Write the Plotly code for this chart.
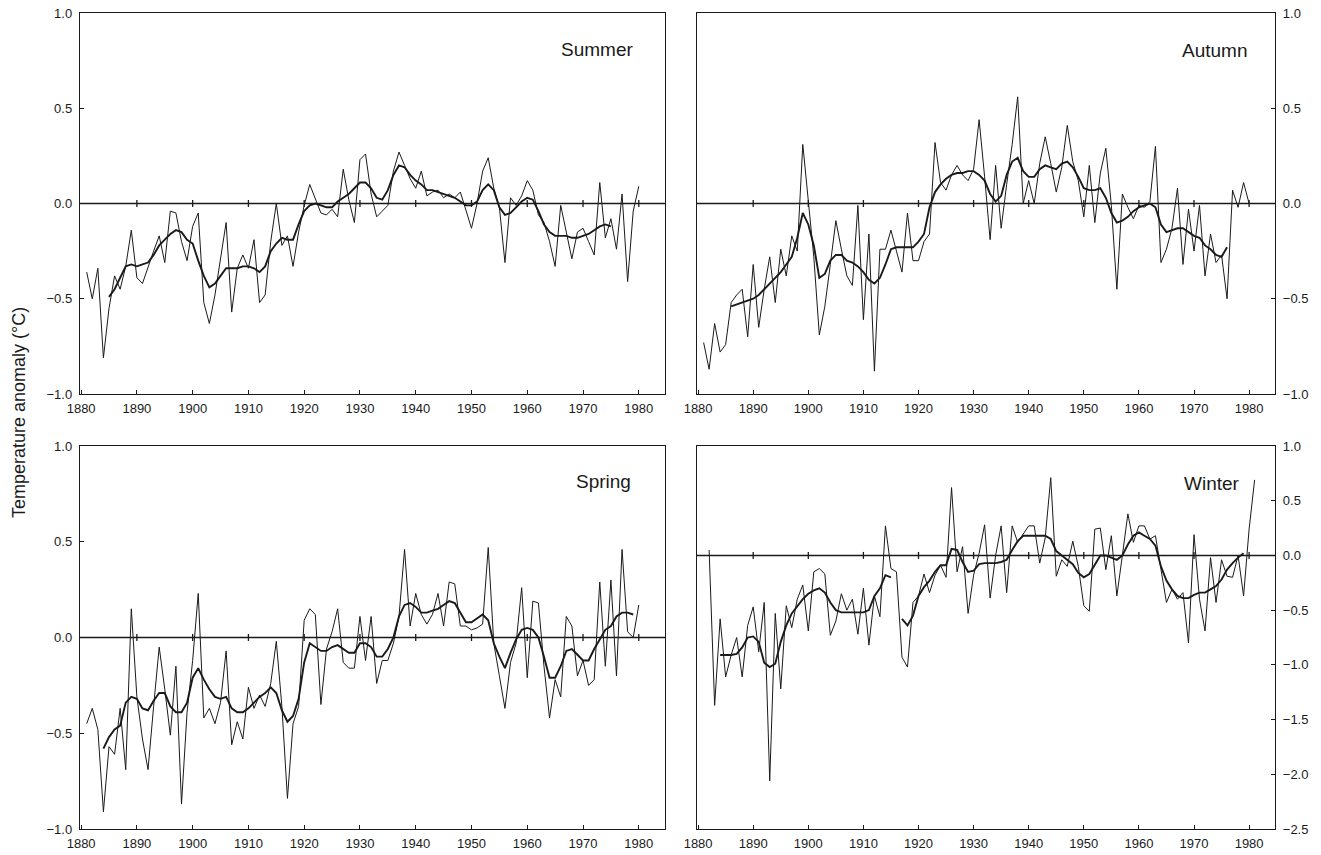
import plotly.graph_objects as go

# ---------------- data ----------------
summer_years = list(range(1881, 1981))
summer_annual = [-0.36, -0.50, -0.34, -0.81, -0.55, -0.38, -0.45, -0.33, -0.14, -0.39,
                 -0.42, -0.33, -0.25, -0.17, -0.31, -0.04, -0.05, -0.20, -0.30, -0.12,
                 -0.05, -0.52, -0.63, -0.48, -0.30, -0.10, -0.57, -0.34, -0.27, -0.34,
                 -0.19, -0.52, -0.48, -0.20, 0.00, -0.22, -0.17, -0.33, -0.15, -0.01,
                 0.10, 0.03, -0.05, -0.06, -0.03, -0.07, 0.18, 0.02, -0.10, 0.23,
                 0.26, 0.05, -0.07, -0.04, -0.01, 0.17, 0.27, 0.20, 0.13, 0.08,
                 0.17, 0.04, 0.06, 0.07, 0.03, 0.05, 0.03, 0.06, -0.03, -0.13,
                 0.00, 0.17, 0.24, 0.08, -0.02, -0.31, 0.03, -0.01, 0.04, 0.12,
                 0.07, -0.06, -0.10, -0.20, -0.33, -0.01, -0.15, -0.29, -0.15, -0.13,
                 -0.20, -0.27, 0.11, -0.18, -0.08, -0.24, 0.05, -0.41, -0.04, 0.09]
summer_smooth_years = list(range(1885, 1976))
summer_smooth = [-0.49, -0.45, -0.39, -0.33, -0.32, -0.33, -0.32, -0.31, -0.27, -0.22,
                 -0.19, -0.16, -0.14, -0.15, -0.19, -0.21, -0.30, -0.38, -0.44, -0.42,
                 -0.38, -0.34, -0.34, -0.34, -0.33, -0.33, -0.34, -0.36, -0.33, -0.25,
                 -0.21, -0.18, -0.19, -0.19, -0.11, -0.04, -0.01, 0.00, -0.01, -0.02,
                 -0.02, 0.01, 0.03, 0.05, 0.08, 0.11, 0.11, 0.08, 0.03, 0.02,
                 0.07, 0.15, 0.20, 0.19, 0.15, 0.12, 0.10, 0.07, 0.07, 0.06,
                 0.05, 0.04, 0.03, 0.01, -0.01, -0.01, 0.01, 0.07, 0.10, 0.07,
                 -0.02, -0.06, -0.05, -0.02, 0.01, 0.03, 0.02, -0.04, -0.11, -0.15,
                 -0.17, -0.17, -0.17, -0.18, -0.18, -0.17, -0.16, -0.14, -0.12, -0.11,
                 -0.12]

autumn_years = list(range(1881, 1981))
autumn_annual = [-0.73, -0.87, -0.63, -0.78, -0.74, -0.52, -0.48, -0.45, -0.70, -0.32,
                 -0.65, -0.45, -0.28, -0.52, -0.24, -0.38, -0.17, -0.25, 0.31, 0.00,
                 -0.28, -0.69, -0.54, -0.32, -0.09, -0.24, -0.38, -0.43, -0.01, -0.61,
                 -0.16, -0.88, -0.24, -0.24, -0.14, -0.25, -0.36, -0.05, -0.30, -0.30,
                 -0.20, -0.16, 0.32, 0.11, 0.07, 0.15, 0.20, 0.15, 0.12, 0.18,
                 0.44, 0.14, -0.19, 0.20, -0.13, 0.10, 0.31, 0.56, 0.00, 0.12,
                 0.00, 0.21, 0.35, 0.21, 0.06, 0.19, 0.41, 0.22, 0.12, -0.07,
                 0.20, -0.10, 0.16, 0.29, -0.01, -0.45, 0.05, -0.02, -0.08, -0.01,
                 -0.02, 0.01, 0.30, -0.31, -0.24, -0.13, 0.08, -0.32, -0.03, -0.25,
                 -0.01, -0.38, -0.16, -0.31, -0.27, -0.50, 0.07, -0.02, 0.11, 0.00]
autumn_smooth_years = list(range(1886, 1977))
autumn_smooth = [-0.54, -0.53, -0.52, -0.51, -0.50, -0.48, -0.45, -0.42, -0.39, -0.36,
                 -0.32, -0.28, -0.18, -0.05, -0.11, -0.22, -0.39, -0.37, -0.30, -0.27,
                 -0.27, -0.30, -0.31, -0.33, -0.36, -0.40, -0.42, -0.39, -0.32, -0.24,
                 -0.23, -0.23, -0.23, -0.23, -0.20, -0.16, -0.02, 0.06, 0.10, 0.13,
                 0.15, 0.16, 0.16, 0.17, 0.17, 0.15, 0.12, 0.05, 0.01, 0.04,
                 0.15, 0.22, 0.24, 0.17, 0.14, 0.14, 0.18, 0.20, 0.19, 0.18,
                 0.21, 0.22, 0.19, 0.14, 0.08, 0.07, 0.07, 0.08, 0.03, -0.05,
                 -0.10, -0.09, -0.07, -0.04, -0.02, -0.01, 0.00, -0.02, -0.11, -0.15,
                 -0.14, -0.13, -0.13, -0.15, -0.17, -0.18, -0.22, -0.24, -0.27, -0.28,
                 -0.23]

spring_years = list(range(1881, 1981))
spring_annual = [-0.45, -0.37, -0.48, -0.91, -0.57, -0.61, -0.37, -0.69, 0.15, -0.31,
                 -0.53, -0.69, -0.36, -0.05, -0.27, -0.51, -0.15, -0.87, -0.39, -0.12,
                 0.23, -0.42, -0.37, -0.45, -0.34, -0.07, -0.56, -0.44, -0.53, -0.26,
                 -0.37, -0.30, -0.36, -0.24, -0.02, -0.36, -0.84, -0.45, -0.36, 0.09,
                 0.15, 0.12, -0.35, -0.06, 0.03, 0.15, -0.13, -0.16, -0.16, 0.11,
                 -0.12, 0.11, -0.24, -0.12, -0.12, -0.03, 0.11, 0.46, 0.06, 0.23,
                 0.12, 0.07, 0.12, 0.23, 0.06, 0.29, 0.28, 0.06, 0.06, 0.04,
                 0.05, 0.07, 0.47, -0.03, -0.20, -0.37, -0.13, -0.03, 0.26, -0.21,
                 0.19, 0.18, -0.15, -0.42, -0.22, -0.31, 0.11, 0.06, -0.20, -0.12,
                 -0.25, -0.22, 0.29, -0.15, 0.30, -0.20, 0.46, 0.03, 0.00, 0.17]
spring_smooth_years = list(range(1884, 1980))
spring_smooth = [-0.58, -0.52, -0.48, -0.46, -0.34, -0.31, -0.32, -0.37, -0.38, -0.33,
                 -0.29, -0.29, -0.36, -0.39, -0.39, -0.34, -0.21, -0.16, -0.22, -0.27,
                 -0.31, -0.32, -0.31, -0.37, -0.39, -0.39, -0.37, -0.34, -0.31, -0.29,
                 -0.26, -0.29, -0.38, -0.44, -0.41, -0.32, -0.13, -0.03, -0.05, -0.07,
                 -0.07, -0.05, -0.04, -0.06, -0.08, -0.08, -0.03, -0.03, -0.05, -0.10,
                 -0.10, -0.06, 0.00, 0.11, 0.17, 0.18, 0.16, 0.13, 0.13, 0.14,
                 0.15, 0.17, 0.19, 0.18, 0.13, 0.08, 0.08, 0.10, 0.12, 0.09,
                 -0.03, -0.10, -0.16, -0.08, -0.01, 0.04, 0.05, 0.04, 0.00, -0.10,
                 -0.21, -0.21, -0.15, -0.07, -0.06, -0.09, -0.12, -0.12, -0.06, -0.01,
                 0.04, 0.06, 0.11, 0.13, 0.13, 0.12]

winter_years = list(range(1882, 1982))
winter_annual = [0.05, -1.37, -0.58, -1.11, -0.91, -0.75, -1.11, -0.64, -0.47, -0.88,
                 -0.43, -2.06, -0.53, -1.22, -0.46, -0.66, -0.40, -0.27, -0.69, -0.15,
                 -0.12, -0.17, -0.73, -0.60, -0.35, -0.50, -0.40, -0.72, -0.30, -0.82,
                 -0.37, -0.56, 0.27, -0.12, -0.15, -0.93, -1.02, -0.43, -0.37, -0.17,
                 -0.34, -0.18, -0.09, -0.20, 0.62, -0.15, 0.08, -0.53, -0.18, 0.02,
                 0.28, -0.39, 0.00, 0.27, -0.34, 0.27, 0.12, 0.19, 0.27, 0.27,
                 -0.07, 0.16, 0.71, -0.19, -0.04, -0.10, 0.13, -0.10, -0.46, -0.51,
                 0.24, 0.25, -0.13, 0.18, -0.37, 0.00, 0.38, 0.12, 0.27, 0.27,
                 0.15, 0.18, -0.13, -0.43, -0.31, -0.40, -0.34, -0.80, 0.19, -0.40,
                 -0.69, -0.02, -0.43, -0.04, -0.19, -0.20, 0.00, -0.37, 0.24, 0.69]
winter_smooth_years = list(range(1884, 1980))
winter_smooth = [-0.91, -0.91, -0.91, -0.90, -0.84, -0.75, -0.74, -0.79, -0.98, -1.02,
                 -0.99, -0.79, -0.64, -0.53, -0.46, -0.40, -0.35, -0.32, -0.30, -0.34,
                 -0.43, -0.50, -0.52, -0.52, -0.52, -0.52, -0.52, -0.50, -0.37, -0.30,
                 -0.18, -0.20, None, -0.58, -0.64, -0.55, -0.37, -0.29, -0.23, -0.15,
                 -0.09, -0.09, 0.06, 0.05, -0.06, -0.15, -0.14, -0.08, -0.07, -0.07,
                 -0.07, -0.06, -0.04, 0.05, 0.13, 0.18, 0.18, 0.18, 0.18, 0.18,
                 0.15, 0.04, 0.00, -0.04, -0.08, -0.16, -0.20, -0.17, -0.08, 0.00,
                 0.00, -0.02, -0.04, 0.00, 0.10, 0.18, 0.21, 0.18, 0.15, 0.09,
                 -0.10, -0.23, -0.31, -0.37, -0.39, -0.39, -0.36, -0.34, -0.34, -0.31,
                 -0.28, -0.22, -0.13, -0.07, -0.02, 0.02]

decade_ticks = [1880, 1890, 1900, 1910, 1920, 1930, 1940, 1950, 1960, 1970, 1980]
season_names = ["Summer", "Autumn", "Spring", "Winter"]

# ---------------- figure ----------------
W, H = 1321, 855
INK = "#1a1a1a"
FONT = "Liberation Sans, Arial, sans-serif"
XRANGE = [1879.8, 1984.7]

def px_x(a, b):
    return [a / W, b / W]

def px_y(top, bottom):
    return [1 - bottom / H, 1 - top / H]

def pos(sx, sy):
    return sx / W, 1 - sy / H

panels = [
    (summer_years, summer_annual, summer_smooth_years, summer_smooth,
     px_x(80, 665), px_y(13, 394), [-1, 1], [-1, -0.5, 0, 0.5, 1], "left"),
    (autumn_years, autumn_annual, autumn_smooth_years, autumn_smooth,
     px_x(697, 1275), px_y(13, 394), [-1, 1], [-1, -0.5, 0, 0.5, 1], "right"),
    (spring_years, spring_annual, spring_smooth_years, spring_smooth,
     px_x(80, 665), px_y(446, 829), [-1, 1], [-1, -0.5, 0, 0.5, 1], "left"),
    (winter_years, winter_annual, winter_smooth_years, winter_smooth,
     px_x(697, 1275), px_y(446, 829), [-2.5, 1], [-2.5, -2, -1.5, -1, -0.5, 0, 0.5, 1], "right"),
]

fig = go.Figure()
layout = dict(
    width=W, height=H,
    margin=dict(l=0, r=0, t=0, b=0, autoexpand=False),
    paper_bgcolor="white", plot_bgcolor="white",
    showlegend=False,
    font=dict(family=FONT, color=INK, size=13),
)

label_pos = [(635, 49), (1249, 50), (633, 481), (1242, 483)]

for i, (yrs, ann, syrs, sm, xd, yd, yr, ytv, side) in enumerate(panels):
    n = "" if i == 0 else str(i + 1)
    xa, ya = "x" + n, "y" + n
    # zero line with decade ticks
    fig.add_trace(go.Scatter(x=XRANGE, y=[0, 0], mode="lines",
                             line=dict(color=INK, width=1.6), xaxis=xa, yaxis=ya,
                             hoverinfo="skip"))
    fig.add_trace(go.Scatter(x=decade_ticks[1:], y=[0] * 10, mode="markers",
                             marker=dict(symbol="line-ns", size=5,
                                         line=dict(color=INK, width=1.3)),
                             xaxis=xa, yaxis=ya, hoverinfo="skip"))
    # annual values (thin)
    fig.add_trace(go.Scatter(x=yrs, y=ann, mode="lines",
                             line=dict(color=INK, width=1.0),
                             xaxis=xa, yaxis=ya, name=season_names[i] + " annual"))
    # smoothed (thick)
    fig.add_trace(go.Scatter(x=syrs, y=sm, mode="lines",
                             line=dict(color=INK, width=1.9),
                             connectgaps=False,
                             xaxis=xa, yaxis=ya, name=season_names[i] + " smoothed"))

    layout["xaxis" + n] = dict(
        domain=xd, range=XRANGE, anchor=ya, automargin=False,
        tickvals=decade_ticks, ticktext=[str(t) for t in decade_ticks],
        ticks="inside", ticklen=4, tickcolor=INK, tickwidth=1,
        showline=True, linecolor=INK, linewidth=1.2, mirror=True,
        showgrid=False, zeroline=False, ticklabelstandoff=2,
        tickfont=dict(size=13, color=INK, family=FONT),
    )
    layout["yaxis" + n] = dict(
        domain=yd, range=yr, anchor=xa, side=side, automargin=False,
        tickvals=ytv, tickformat=".1f",
        ticks="inside", ticklen=4, tickcolor=INK, tickwidth=1,
        showline=True, linecolor=INK, linewidth=1.2, mirror=True,
        showgrid=False, zeroline=False, ticklabelstandoff=4,
        tickfont=dict(size=13, color=INK, family=FONT),
    )

fig.update_layout(**layout)

for name, (px, py) in zip(season_names, label_pos):
    ax, ay = pos(px, py)
    fig.add_annotation(text=name, xref="paper", yref="paper",
                       x=ax, y=ay, xanchor="right", yanchor="middle",
                       showarrow=False, font=dict(size=19, color=INK, family=FONT))

tx, ty = pos(19, 413)
fig.add_annotation(text="Temperature anomaly (°C)", xref="paper", yref="paper",
                   x=tx, y=ty, xanchor="center", yanchor="middle",
                   textangle=-90, showarrow=False,
                   font=dict(size=18, color=INK, family=FONT))

# remove the default 8px page margin so the 1321x855 figure fills the window exactly
fig.write_html("out.html",
               config={"displayModeBar": False, "staticPlot": True},
               post_script="document.body.style.margin='0px';"
                           "document.body.style.overflow='hidden';")
